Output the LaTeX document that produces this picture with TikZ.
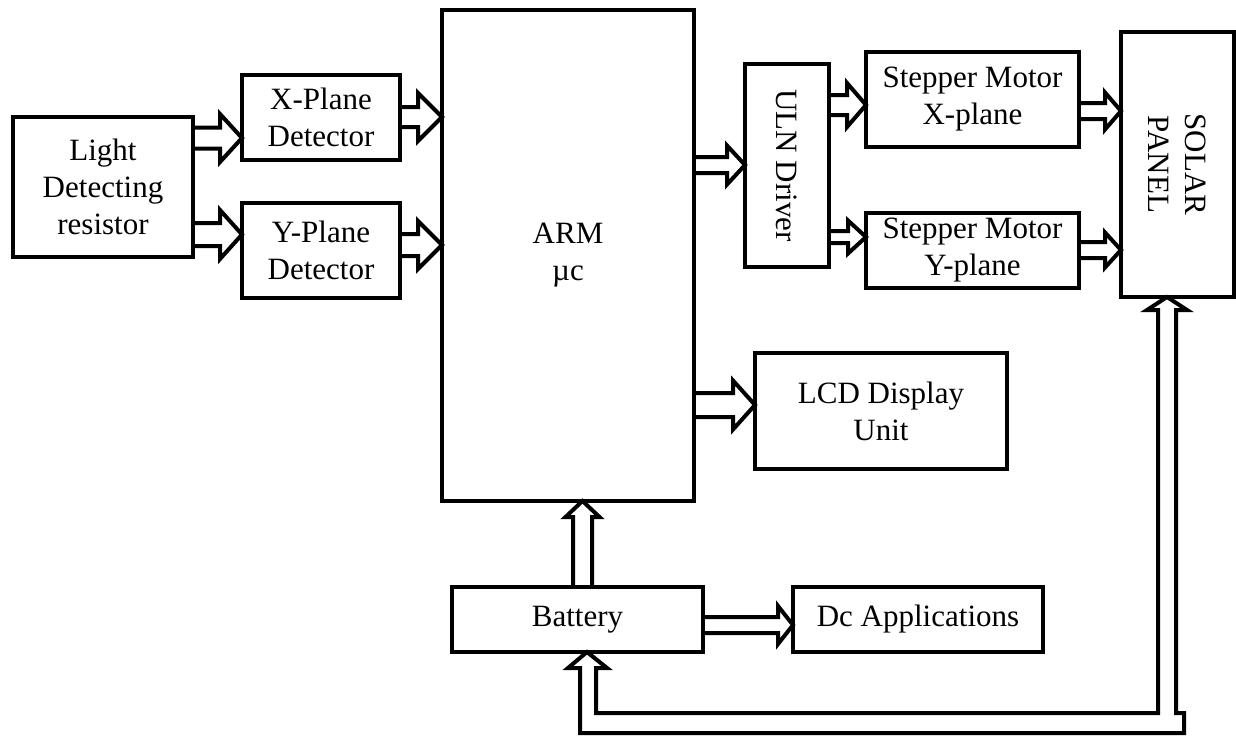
\documentclass[tikz,border=0pt]{standalone}
\usepackage{fontspec}
\setmainfont{Liberation Serif}
\usetikzlibrary{calc}
\tikzset{
  box/.style={draw, line width=4pt, align=center, inner sep=0pt, outer sep=0pt,
    font=\fontsize{31}{37}\selectfont},
  conn/.style={draw, line width=4pt, line join=miter},
  lbl/.style={align=center, inner sep=0pt, font=\fontsize{31}{37}\selectfont}
}
% right-pointing hollow arrow: from #1.east to #2.west at pixel y #3; shaft half #4, head half #5, head length #6
\newcommand\arrR[6]{%
  \draw[conn] let \p1=(#1.east), \p2=(#2.west) in
    (\x1,{-#3pt+#4pt}) -- ({\x2-#6pt},{-#3pt+#4pt}) -- ({\x2-#6pt},{-#3pt+#5pt})
    -- (\x2,{-#3pt}) -- ({\x2-#6pt},{-#3pt-#5pt}) -- ({\x2-#6pt},{-#3pt-#4pt})
    -- (\x1,{-#3pt-#4pt});}
% upward hollow arrow: from #1.north to #2.south at pixel x #3
\newcommand\arrU[6]{%
  \draw[conn] let \p1=(#1.north), \p2=(#2.south) in
    ({#3pt-#4pt},\y1) -- ({#3pt-#4pt},{\y2-#6pt}) -- ({#3pt-#5pt},{\y2-#6pt})
    -- (#3pt,\y2) -- ({#3pt+#5pt},{\y2-#6pt}) -- ({#3pt+#4pt},{\y2-#6pt})
    -- ({#3pt+#4pt},\y1);}
\begin{document}
\begin{tikzpicture}[x=1pt,y=-1pt]
\useasboundingbox (0,0) rectangle (1236,736);
\fill[white] (0,0) rectangle (1236,736);

\node[box, minimum width=180pt, minimum height=140pt] (ldr) at (103,187) {Light\\Detecting\\resistor};
\node[box, minimum width=158pt, minimum height=85pt] (xpd) at (321,117.5) {X-Plane\\Detector};
\node[box, minimum width=158pt, minimum height=95pt] (ypd) at (321,250.5) {Y-Plane\\Detector};
\node[box, minimum width=252pt, minimum height=491pt] (arm) at (568,255.5) {ARM\\µc};
\node[box, minimum width=84pt, minimum height=203pt] (uln) at (787,165.5) {};
\node[lbl, rotate=-90] (ulnlabel) at (uln) {ULN Driver};
\node[box, minimum width=213pt, minimum height=95pt] (smx) at (972.5,99.5) {Stepper Motor\\X-plane};
\node[box, minimum width=213pt, minimum height=75pt] (smy) at (972.5,250.5) {Stepper Motor\\Y-plane};
\node[box, minimum width=113pt, minimum height=265pt] (solar) at (1177.5,164.5) {};
\node[lbl, rotate=-90] (solarlabel) at (solar) {SOLAR\\PANEL};
\node[box, minimum width=252pt, minimum height=116pt] (lcd) at (881,411) {LCD Display\\Unit};
\node[box, minimum width=251pt, minimum height=65pt] (bat) at (577.5,619.5) {Battery};
\node[box, minimum width=250pt, minimum height=65pt] (dc) at (918,619.5) {Dc Applications};

\arrR{ldr}{xpd}{138}{10.5}{24}{22}
\arrR{ldr}{ypd}{234.5}{11.5}{24.5}{22}
\arrR{xpd}{arm}{117}{10}{24}{24}
\arrR{ypd}{arm}{245}{11}{24}{24}
\arrR{arm}{uln}{165}{8}{19.5}{18}
\arrR{uln}{smx}{105}{10}{22}{19}
\arrR{uln}{smy}{237}{6}{16.5}{18}
\arrR{smx}{solar}{111}{8}{18.5}{16}
\arrR{smy}{solar}{250}{8}{17.5}{16}
\arrR{arm}{lcd}{405}{12}{24.5}{22}
\arrR{bat}{dc}{625}{8}{19}{15}
\arrU{bat}{arm}{582.5}{9.5}{17}{16}

% feedback from solar panel to battery
\draw[conn] (580,733) -- (580,668) -- (568,668) -- ($(bat.south)+(9.5,0)$) -- (607,668) -- (596,668)
  -- (596,713) -- (1158,713) -- (1158,310) -- (1147,310) -- ($(solar.south)+(-10.5,0)$)
  -- (1187,310) -- (1176,310) -- (1176,713) -- (1184,713) -- (1184,733) -- cycle;
\end{tikzpicture}
\end{document}
